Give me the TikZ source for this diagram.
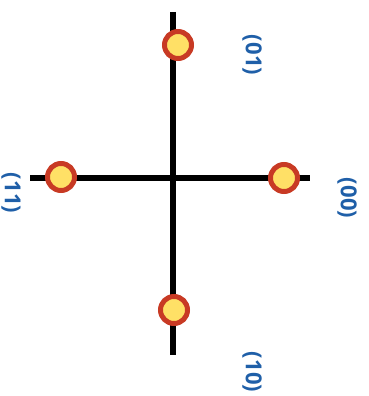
\documentclass[tikz,border=0pt]{standalone}
\usepackage{fontspec}
\setmainfont{Open Sans}
\definecolor{lblue}{HTML}{1F5FA8}
\definecolor{dotred}{HTML}{C83A24}
\definecolor{dotyel}{HTML}{FFE066}
\begin{document}
\begin{tikzpicture}[x=1pt,y=1pt,
  axis/.style={line width=5.5pt,black},
  dot/.style={circle,draw=dotred,fill=dotyel,line width=5pt,minimum size=27pt,inner sep=0pt},
  lbl/.style={text=lblue,font=\fontsize{22}{26}\selectfont\bfseries,rotate=-90,inner sep=0pt}]
\useasboundingbox (0,0) rectangle (368,396);
\coordinate (top) at (173,384);
\coordinate (bot) at (173,41);
\coordinate (left) at (30,218);
\coordinate (right) at (310,218);
\draw[axis] (top) -- (bot);
\draw[axis] (left) -- (right);
\node[dot] (d01) at (178,351) {};
\node[dot] (d11) at (61,219) {};
\node[dot] (d00) at (284,218) {};
\node[dot] (d10) at (174,86) {};
\node[lbl] (l01) at (252,341) {(01)};
\node[lbl] (l11) at (11,203) {(11)};
\node[lbl] (l00) at (347,198) {(00)};
\node[lbl] (l10) at (252,24) {(10)};
\end{tikzpicture}
\end{document}
